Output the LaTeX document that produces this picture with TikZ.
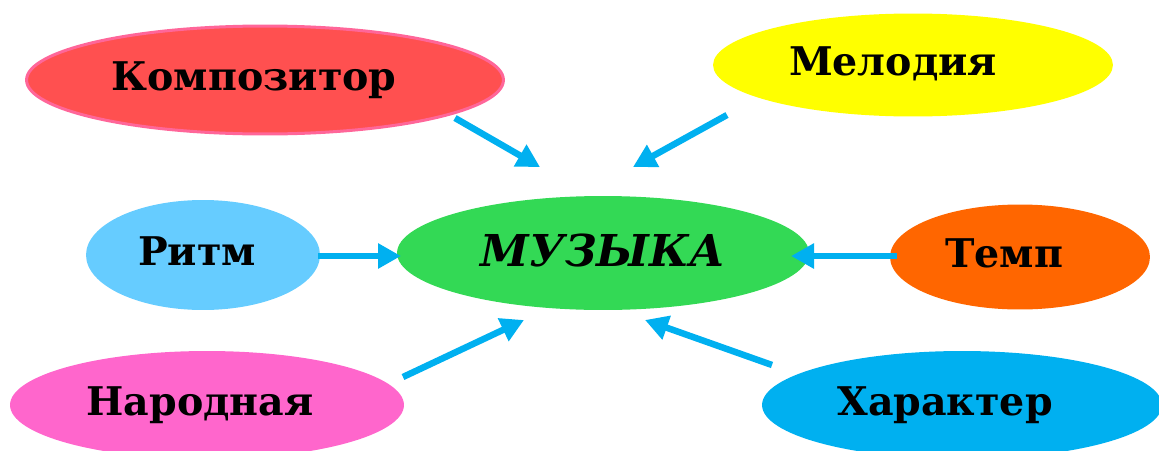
\documentclass[tikz,border=0pt]{standalone}
\usepackage{fontspec}
\setmainfont{DejaVu Serif}
\usetikzlibrary{arrows.meta,shapes.geometric}
\definecolor{kred}{HTML}{FF5050}
\definecolor{kpink}{HTML}{FF6699}
\definecolor{myel}{HTML}{FFFF00}
\definecolor{rblue}{HTML}{66CCFF}
\definecolor{mgreen}{HTML}{33D955}
\definecolor{torange}{HTML}{FF6600}
\definecolor{nmag}{HTML}{FF66CC}
\definecolor{xcyan}{HTML}{00B0F0}
\tikzset{
  oval/.style={ellipse, inner sep=0pt, font=\fontsize{22.5}{26}\selectfont\bfseries, text=black, text height=0.42cm, text depth=0pt},
  arr/.style={draw=xcyan, line width=0.13cm, -{Triangle[length=0.46cm,width=0.48cm]}}
}
\newcommand{\lsh}[1]{\kern#1}
\begin{document}
\begin{tikzpicture}[x=0.02cm,y=-0.02cm]
\useasboundingbox (0,0) rectangle (1159,450);
\clip (0,0) rectangle (1159,450);
\node[oval, fill=kred, draw=kpink, line width=0.06cm, minimum width=9.54cm, minimum height=2.16cm] (komp) at (265,80) {Композитор\lsh{0.44cm}};
\node[oval, fill=myel, minimum width=8cm, minimum height=2.06cm] (mel) at (913,65) {Мелодия\lsh{0.8cm}};
\node[oval, fill=rblue, minimum width=4.68cm, minimum height=2.2cm] (ritm) at (203,255) {Ритм\lsh{0.24cm}};
\node[oval, fill=mgreen, minimum width=8.24cm, minimum height=2.28cm, font=\fontsize{25}{28}\selectfont\bfseries\itshape, text height=0.52cm] (muz) at (603,253) {МУЗЫКА};
\node[oval, fill=torange, minimum width=5.2cm, minimum height=2.1cm] (temp) at (1020,257) {Темп\lsh{0.64cm}};
\node[oval, fill=nmag, minimum width=7.88cm, minimum height=2.16cm] (nar) at (207,405) {Народная\lsh{0.28cm}};
\node[oval, fill=xcyan, minimum width=8cm, minimum height=2.16cm] (har) at (962,405) {Характер\lsh{0.68cm}};
\coordinate (a1) at (455,118); \coordinate (b1) at (540,167);
\coordinate (a2) at (727,115); \coordinate (b2) at (633,167);
\coordinate (a3) at (318,256); \coordinate (b3) at (401,256);
\coordinate (a4) at (897,256); \coordinate (b4) at (791,256);
\coordinate (a5) at (403,377); \coordinate (b5) at (524,320);
\coordinate (a6) at (772,365); \coordinate (b6) at (645,320);
\draw[arr] (a1) -- (b1);
\draw[arr] (a2) -- (b2);
\draw[arr] (a3) -- (b3);
\draw[arr] (a4) -- (b4);
\draw[arr] (a5) -- (b5);
\draw[arr] (a6) -- (b6);
\end{tikzpicture}
\end{document}
